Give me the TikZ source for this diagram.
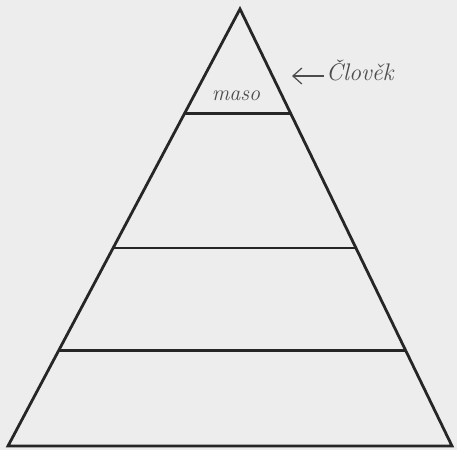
\documentclass[tikz,border=0pt]{standalone}
\usetikzlibrary{arrows.meta}
\begin{document}
\begin{tikzpicture}[x=1pt,y=-1pt,
  edge/.style={line width=2.8pt,draw=black!85,line join=miter},
  hand/.style={text=black!70,font=\itshape\fontsize{22}{22}\selectfont,inner sep=0pt}]
\fill[black!7] (0,0) rectangle (457,450);
\useasboundingbox (0,0) rectangle (457,450);
\coordinate (apex) at (240,9);
\coordinate (bl) at (8,446);
\coordinate (br) at (452,446);
\draw[edge] (apex) -- (bl) -- (br) -- cycle;
\foreach \f/\n in {0.240/1,0.547/2,0.781/3}{
  \path (apex) -- (bl) coordinate[pos=\f] (a\n);
  \path (apex) -- (br) coordinate[pos=\f] (b\n);
  \draw[edge] (a\n) -- (b\n);
}
\node[hand] (maso) at (236,96) {maso};
\node[hand,anchor=west,font=\itshape\fontsize{24}{24}\selectfont] (clovek) at (326,70) {Člověk};
\coordinate (tip) at (292,76);
\draw[black!70,line width=1.2pt,-{Straight Barb[length=9pt,width=16pt]}] (clovek.west) ++(-2,6) -- (tip);
\end{tikzpicture}
\end{document}
